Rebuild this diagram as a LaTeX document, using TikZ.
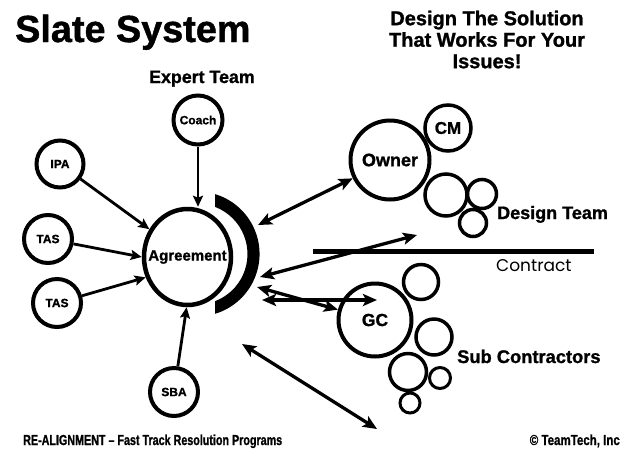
\documentclass[tikz,border=0pt]{standalone}
\usepackage{fontspec}
\setmainfont{Liberation Sans}[BoldFeatures={FakeBold=1.2}]
\newfontfamily\geofont{Poppins}
\usetikzlibrary{arrows.meta,shapes.geometric}

\begin{document}
\begin{tikzpicture}[x=1pt,y=-1pt,
  ring/.style={circle, draw, line width=4pt, inner sep=0pt, minimum size=#1},
  bubble/.style={circle, draw, line width=3.5pt, inner sep=0pt, minimum size=#1},
  hub/.style={ellipse, draw, line width=4.5pt, inner sep=0pt,
              minimum width=87pt, minimum height=96pt},
  feed/.style={line width=2.8pt, -{Stealth[length=11pt,width=10pt,inset=2pt]}},
  both/.style={line width=3.3pt,
              {Stealth[length=14pt,width=12pt,inset=3pt]}-{Stealth[length=14pt,width=12pt,inset=3pt]}},
  txt/.style={font=\bfseries\fontsize{#1}{#1}\selectfont, inner sep=0pt},
]
\useasboundingbox (0,0) rectangle (621,451);

% headings
\node[txt=37.8, anchor=base west] (title) at (15,42) {Slate System};
\node[txt=20, anchor=north, align=center, font=\bfseries\fontsize{20}{21.5}\selectfont]
  (motto) at (487,10.5) {Design The Solution\\That Works For Your\\Issues!};
\node[txt=17.8, anchor=base west] (expert) at (149,83) {Expert Team};

% agreement hub and its inputs
\node[hub, label={[txt=15]center:Agreement}] (agr) at (187.5,257) {};
\node[ring=49, txt=12] (coach) at (198,120) {Coach};
\node[ring=47, txt=12] (ipa) at (60,164) {IPA};
\node[ring=48, txt=12] (tas1) at (48,239) {TAS};
\node[ring=48, txt=12] (tas2) at (57,303) {TAS};
\node[ring=48, txt=12] (sba) at (174,392) {SBA};

\draw[feed, line width=2.5pt] (coach.south) -- (coach.south |- agr.north);
\draw[feed] (ipa) -- (agr);
\draw[feed] (tas1) -- (agr.west);
\draw[feed] (tas2) -- (agr.206);
\draw[feed] (sba) -- (agr.-91);

% shield crescent beside the hub
\fill (215,194.1) arc[start angle=-73.3, end angle=73.3, radius=62.5]
      -- (215,301.2) arc[start angle=69.1, end angle=-69.1, radius=50.5] -- cycle;

% owner side
\node[ring=79, txt=18] (owner) at (390,160) {Owner};
\node[bubble=46, txt=17] (cm) at (448,128) {CM};
\node[bubble=42] (d1) at (446,195) {};
\node[bubble=29] (d2) at (482,194) {};
\node[bubble=27] (d3) at (473,223) {};
\node[txt=18, anchor=base west] (design) at (497,219) {Design Team};

% contract line
\coordinate (cL) at (313,251);
\coordinate (cR) at (594,251);
\draw[line width=5pt] (cL) -- (cR);
\node[inner sep=0pt, anchor=base west, font=\geofont\fontsize{17}{17}\selectfont] (contract) at (496,271) {Contract};

% contractor side
\node[ring=73, txt=17.5] (gc) at (375,320) {GC};
\node[bubble=35] (s1) at (421,282) {};
\node[bubble=36] (s2) at (434,337) {};
\node[bubble=37] (s3) at (408,372) {};
\node[bubble=21, line width=3pt] (s4) at (440,378) {};
\node[bubble=20, line width=3pt] (s5) at (410,403) {};
\node[txt=18.3, anchor=base west] (subs) at (457,363) {Sub Contractors};

% two-way links from the crescent
\coordinate (sh1) at (258,225);
\coordinate (sh2) at (260,277);
\coordinate (sh3) at (257,287);
\coordinate (sh4) at (262,300);
\coordinate (dt) at (417,235);
\coordinate (gcIn) at (377,300);
\coordinate (lowA) at (242,344);
\coordinate (lowB) at (377,429);
\draw[both] (sh1) -- (owner);
\draw[both] (sh2) -- (dt);
\draw[both] (sh3) -- (gc);
\draw[both] (sh4) -- (gcIn);
\draw[both] (lowA) -- (lowB);

% footer
\node[inner sep=0pt, anchor=base west] (foot) at (23,445)
  {\resizebox{259pt}{10.5pt}{\bfseries RE-ALIGNMENT – Fast Track Resolution Programs}};
\node[inner sep=0pt, anchor=base east] (copy) at (620,445)
  {\resizebox{90pt}{10.5pt}{\bfseries © TeamTech, Inc}};
\end{tikzpicture}
\end{document}
